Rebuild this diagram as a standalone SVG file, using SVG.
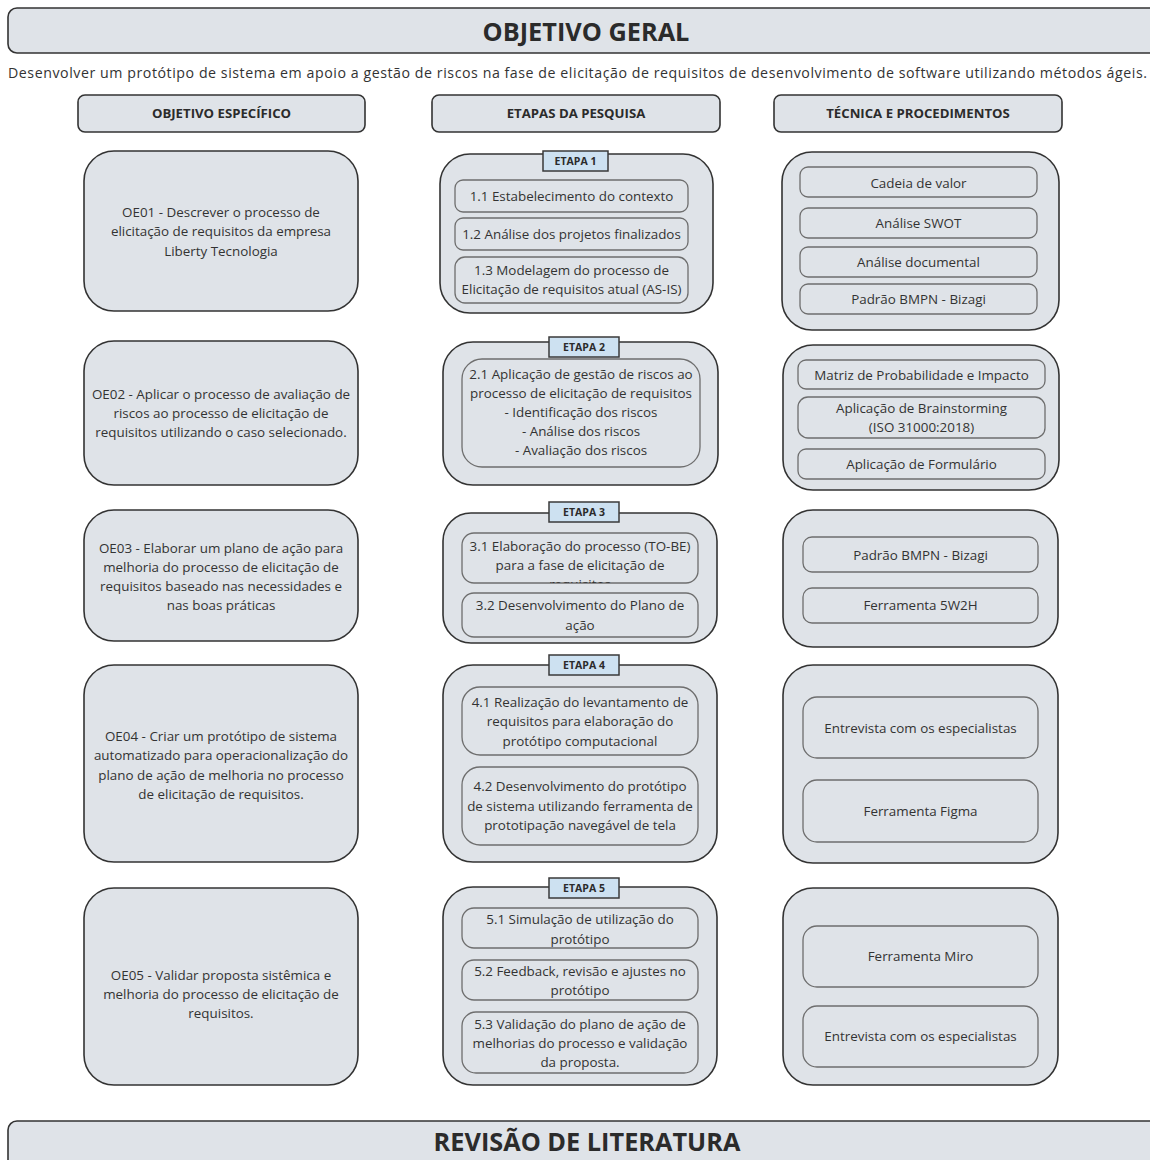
<svg xmlns="http://www.w3.org/2000/svg" width="1150" height="1160" viewBox="0 0 1150 1160">
  <defs>
    <style>
      .outer { fill: #dfe3e8; stroke: #333; stroke-width: 1.6; }
      .inner { fill: #dfe3e8; stroke: #6e6e6e; stroke-width: 1.3; }
      .tag { fill: #cde1f1; stroke: #3a3a3a; stroke-width: 1.5; }
      text { font-family: "Open Sans", "Noto Sans", sans-serif; fill: #333; text-anchor: middle; font-size: 13.4px; }
      .big { font-weight: 700; font-size: 25.3px; fill: #2b2b2b; }
      .hd { font-weight: 700; font-size: 13.2px; fill: #2b2b2b; }
      .tg { font-weight: 700; font-size: 10.5px; fill: #2b2b2b; }
      .sub { font-size: 14.2px; text-anchor: start; }
    </style>
    <clipPath id="clip31">
      <rect x="462" y="533" width="236" height="50" rx="12"/>
    </clipPath>
  </defs>
  <rect width="1150" height="1160" fill="#ffffff"/>

  <!-- general objective -->
  <g id="objetivo-geral">
    <rect class="outer" x="8" y="8" width="1156" height="45" rx="9"/>
    <text class="big" x="586" y="40.5">OBJETIVO GERAL</text>
    <text class="sub" x="8" y="78" textLength="1139" lengthAdjust="spacing">Desenvolver um protótipo de sistema em apoio a gestão de riscos na fase de elicitação de requisitos de desenvolvimento de software utilizando métodos ágeis.</text>
  </g>

  <!-- column headers -->
  <g id="hdr-objetivo">
    <rect class="outer" x="78" y="95" width="287" height="37" rx="7"/>
    <text class="hd" x="221.5" y="118">OBJETIVO ESPECÍFICO</text>
  </g>
  <g id="hdr-etapas">
    <rect class="outer" x="432" y="95" width="288" height="37" rx="7"/>
    <text class="hd" x="576" y="118">ETAPAS DA PESQUISA</text>
  </g>
  <g id="hdr-tecnica">
    <rect class="outer" x="774" y="95" width="288" height="37" rx="7"/>
    <text class="hd" x="918" y="118">TÉCNICA E PROCEDIMENTOS</text>
  </g>

  <!-- specific objectives -->
  <g id="oe01">
    <rect class="outer" x="84" y="151" width="274" height="160" rx="30"/>
    <text x="221" y="217">OE01 - Descrever o processo de</text>
    <text x="221" y="236">elicitação de requisitos da empresa</text>
    <text x="221" y="256">Liberty Tecnologia</text>
  </g>
  <g id="oe02">
    <rect class="outer" x="84" y="341" width="274" height="144" rx="30"/>
    <text x="221" y="399">OE02 - Aplicar o processo de avaliação de</text>
    <text x="221" y="418">riscos ao processo de elicitação de</text>
    <text x="221" y="437">requisitos utilizando o caso selecionado.</text>
  </g>
  <g id="oe03">
    <rect class="outer" x="84" y="510" width="274" height="131" rx="30"/>
    <text x="221" y="553">OE03 - Elaborar um plano de ação para</text>
    <text x="221" y="572">melhoria do processo de elicitação de</text>
    <text x="221" y="591">requisitos baseado nas necessidades e</text>
    <text x="221" y="610">nas boas práticas</text>
  </g>
  <g id="oe04">
    <rect class="outer" x="84" y="665" width="274" height="197" rx="30"/>
    <text x="221" y="741">OE04 - Criar um protótipo de sistema</text>
    <text x="221" y="760">automatizado para operacionalização do</text>
    <text x="221" y="780">plano de ação de melhoria no processo</text>
    <text x="221" y="799">de elicitação de requisitos.</text>
  </g>
  <g id="oe05">
    <rect class="outer" x="84" y="888" width="274" height="197" rx="30"/>
    <text x="221" y="980">OE05 - Validar proposta sistêmica e</text>
    <text x="221" y="999">melhoria do processo de elicitação de</text>
    <text x="221" y="1018">requisitos.</text>
  </g>

  <!-- research stages -->
  <g id="etapa1">
    <rect class="outer" x="440" y="154" width="273" height="159" rx="30"/>
    <rect class="tag" x="543" y="151" width="65" height="20"/>
    <text class="tg" x="575.5" y="165">ETAPA 1</text>
    <rect class="inner" x="455" y="180" width="233" height="32" rx="8"/>
    <text x="571.5" y="201">1.1 Estabelecimento do contexto</text>
    <rect class="inner" x="455" y="218" width="233" height="32" rx="8"/>
    <text x="571.5" y="239">1.2 Análise dos projetos finalizados</text>
    <rect class="inner" x="455" y="257" width="233" height="46" rx="10"/>
    <text x="571.5" y="275">1.3 Modelagem do processo de</text>
    <text x="571.5" y="294">Elicitação de requisitos atual (AS-IS)</text>
  </g>
  <g id="etapa2">
    <rect class="outer" x="443" y="342" width="275" height="143" rx="30"/>
    <rect class="tag" x="549" y="337" width="70" height="20"/>
    <text class="tg" x="584" y="351">ETAPA 2</text>
    <rect class="inner" x="462" y="359" width="238" height="108" rx="20"/>
    <text x="581" y="379">2.1 Aplicação de gestão de riscos ao</text>
    <text x="581" y="398">processo de elicitação de requisitos</text>
    <text x="581" y="417">- Identificação dos riscos</text>
    <text x="581" y="436">- Análise dos riscos</text>
    <text x="581" y="455">- Avaliação dos riscos</text>
  </g>
  <g id="etapa3">
    <rect class="outer" x="443" y="513" width="274" height="130" rx="28"/>
    <rect class="tag" x="549" y="502" width="70" height="20"/>
    <text class="tg" x="584" y="516">ETAPA 3</text>
    <rect class="inner" x="462" y="533" width="236" height="50" rx="12"/>
    <g clip-path="url(#clip31)">
      <text x="580" y="551">3.1 Elaboração do processo (TO-BE)</text>
      <text x="580" y="570">para a fase de elicitação de</text>
      <text x="580" y="589">requisitos</text>
    </g>
    <rect class="inner" x="462" y="593" width="236" height="44" rx="12"/>
    <text x="580" y="610">3.2 Desenvolvimento do Plano de</text>
    <text x="580" y="630">ação</text>
  </g>
  <g id="etapa4">
    <rect class="outer" x="443" y="665" width="274" height="197" rx="30"/>
    <rect class="tag" x="549" y="655" width="70" height="20"/>
    <text class="tg" x="584" y="669">ETAPA 4</text>
    <rect class="inner" x="462" y="687" width="236" height="68" rx="18"/>
    <text x="580" y="707">4.1 Realização do levantamento de</text>
    <text x="580" y="726">requisitos para elaboração do</text>
    <text x="580" y="746">protótipo computacional</text>
    <rect class="inner" x="462" y="767" width="236" height="78" rx="18"/>
    <text x="580" y="791">4.2 Desenvolvimento do protótipo</text>
    <text x="580" y="811">de sistema utilizando ferramenta de</text>
    <text x="580" y="830">prototipação navegável de tela</text>
  </g>
  <g id="etapa5">
    <rect class="outer" x="443" y="887" width="274" height="198" rx="30"/>
    <rect class="tag" x="549" y="878" width="70" height="20"/>
    <text class="tg" x="584" y="892">ETAPA 5</text>
    <rect class="inner" x="462" y="908" width="236" height="40" rx="12"/>
    <text x="580" y="924">5.1 Simulação de utilização do</text>
    <text x="580" y="944">protótipo</text>
    <rect class="inner" x="462" y="960" width="236" height="40" rx="12"/>
    <text x="580" y="976">5.2 Feedback, revisão e ajustes no</text>
    <text x="580" y="995">protótipo</text>
    <rect class="inner" x="462" y="1012" width="236" height="61" rx="14"/>
    <text x="580" y="1029">5.3 Validação do plano de ação de</text>
    <text x="580" y="1048">melhorias do processo e validação</text>
    <text x="580" y="1067">da proposta.</text>
  </g>

  <!-- techniques and procedures -->
  <g id="tecnica1">
    <rect class="outer" x="782" y="152" width="277" height="178" rx="30"/>
    <rect class="inner" x="800" y="167" width="237" height="30" rx="8"/>
    <text x="918.5" y="188">Cadeia de valor</text>
    <rect class="inner" x="800" y="208" width="237" height="30" rx="8"/>
    <text x="918.5" y="228">Análise SWOT</text>
    <rect class="inner" x="800" y="247" width="237" height="30" rx="8"/>
    <text x="918.5" y="267">Análise documental</text>
    <rect class="inner" x="800" y="284" width="237" height="30" rx="8"/>
    <text x="918.5" y="304">Padrão BMPN - Bizagi</text>
  </g>
  <g id="tecnica2">
    <rect class="outer" x="783" y="345" width="276" height="145" rx="30"/>
    <rect class="inner" x="798" y="360" width="247" height="29" rx="8"/>
    <text x="921.5" y="380">Matriz de Probabilidade e Impacto</text>
    <rect class="inner" x="798" y="397" width="247" height="41" rx="10"/>
    <text x="921.5" y="413">Aplicação de Brainstorming</text>
    <text x="921.5" y="432">(ISO 31000:2018)</text>
    <rect class="inner" x="798" y="449" width="247" height="30" rx="8"/>
    <text x="921.5" y="469">Aplicação de Formulário</text>
  </g>
  <g id="tecnica3">
    <rect class="outer" x="783" y="510" width="275" height="137" rx="30"/>
    <rect class="inner" x="803" y="537" width="235" height="35" rx="9"/>
    <text x="920.5" y="560">Padrão BMPN - Bizagi</text>
    <rect class="inner" x="803" y="588" width="235" height="35" rx="9"/>
    <text x="920.5" y="610">Ferramenta 5W2H</text>
  </g>
  <g id="tecnica4">
    <rect class="outer" x="783" y="665" width="275" height="198" rx="30"/>
    <rect class="inner" x="803" y="697" width="235" height="61" rx="14"/>
    <text x="920.5" y="733">Entrevista com os especialistas</text>
    <rect class="inner" x="803" y="780" width="235" height="62" rx="14"/>
    <text x="920.5" y="816">Ferramenta Figma</text>
  </g>
  <g id="tecnica5">
    <rect class="outer" x="783" y="888" width="275" height="197" rx="30"/>
    <rect class="inner" x="803" y="926" width="235" height="61" rx="14"/>
    <text x="920.5" y="961">Ferramenta Miro</text>
    <rect class="inner" x="803" y="1006" width="235" height="61" rx="14"/>
    <text x="920.5" y="1041">Entrevista com os especialistas</text>
  </g>

  <!-- literature review -->
  <g id="revisao-literatura">
    <rect class="outer" x="8" y="1121" width="1160" height="60" rx="9"/>
    <text class="big" x="587" y="1151">REVISÃO DE LITERATURA</text>
  </g>
</svg>
